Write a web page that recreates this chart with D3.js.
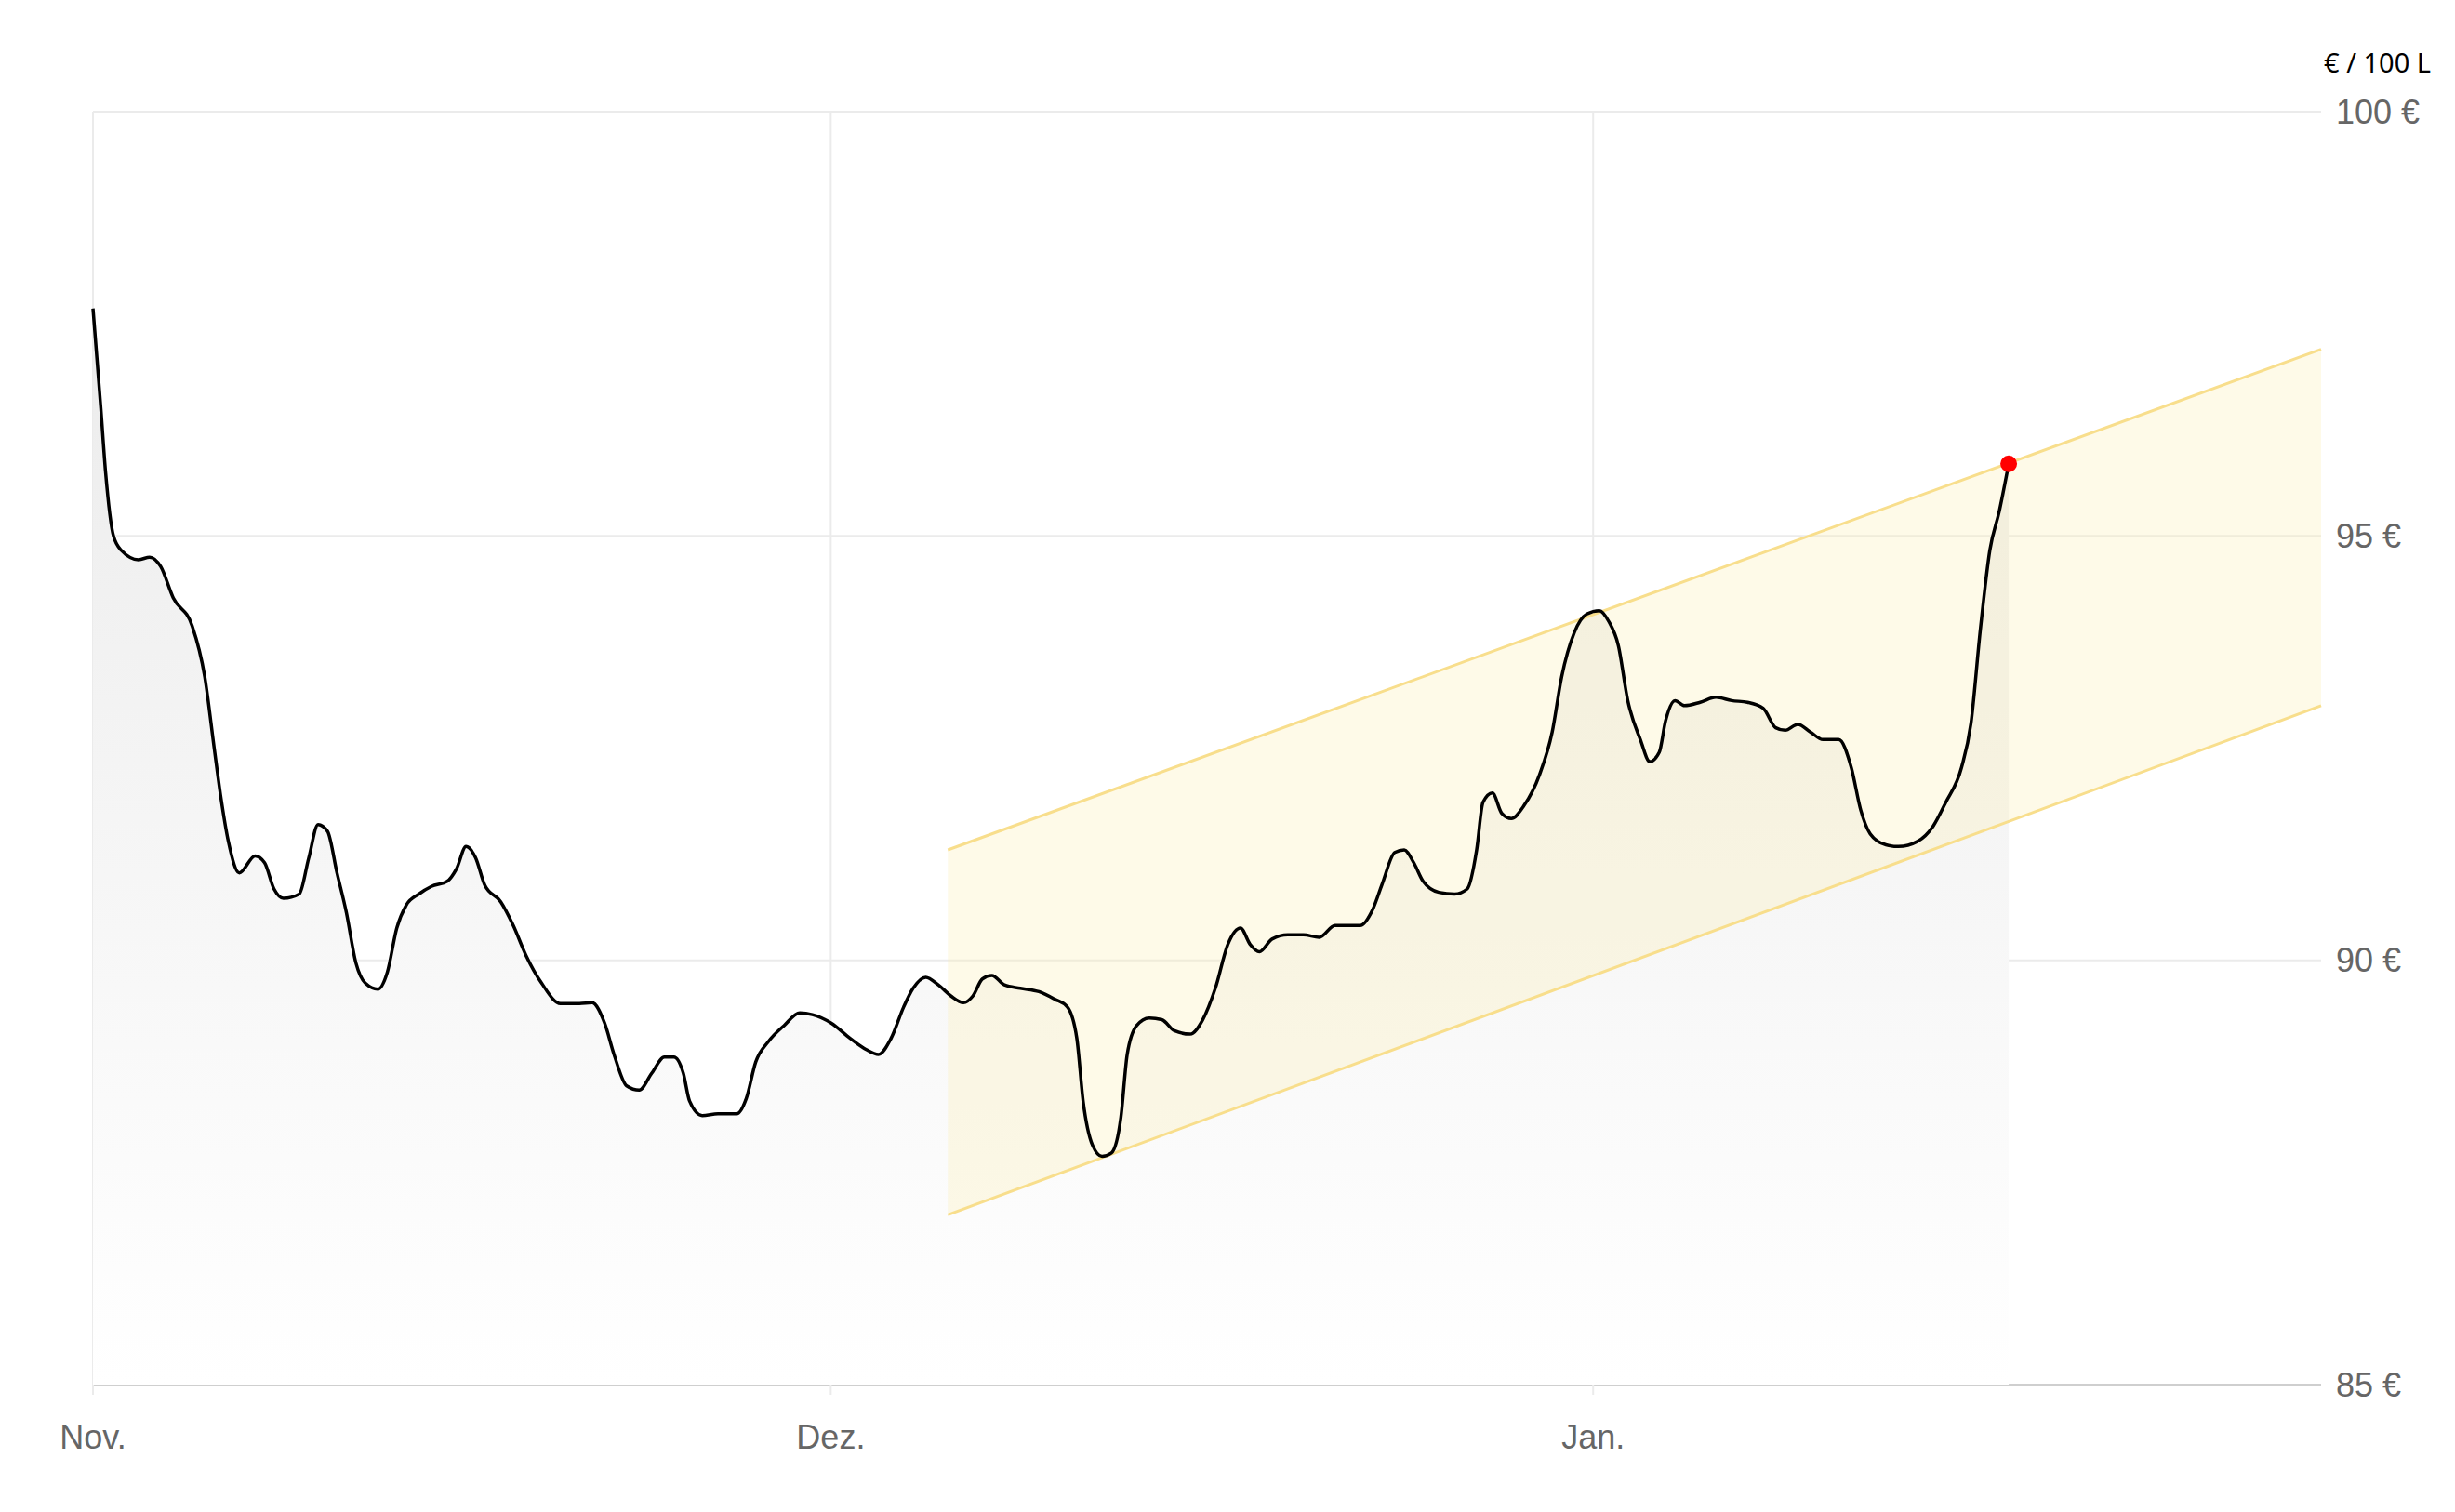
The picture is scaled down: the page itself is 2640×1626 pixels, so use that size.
<!DOCTYPE html>
<html><head><meta charset="utf-8">
<script src="https://cdn.jsdelivr.net/npm/d3@7"></script>
<style>body{margin:0;background:#fff}svg{display:block}text{font-family:"Liberation Sans",Arial,sans-serif}</style>
</head><body>
<script>
// Data: day offsets from 1 Nov and price in €/100 L
const dispX = [59,64,67,72,77,88,95,102,110,122,130,136,140,145,152,162,168,174,180,190,196,202,208,214,220,226,232,240,246,252,258,266,274,284,290,296,302,308,318,326,334,344,356,368,376,384,390,398,406,414,422,428,434,438,446,456,468,474,480,488,498,508,516,528,540,550,558,566,574,580,588,596,604,612,618,624,630,638,648,660,670,678,684,688,694,700,706,712,716,722,730,738,746,756,764,772,780,788,794,800,808,818,828,838,848,856,864,872,878,886,892,898,904,914,924,932,938,942,948,954,960,968,978,986,992,1000,1008,1016,1022,1028,1034,1042,1048,1054,1058,1064,1070,1080,1090,1100,1110,1120,1128,1134,1142,1150,1158,1168,1176,1182,1188,1198,1206,1218,1228,1236,1246,1252,1258,1264,1270,1276];
const days = dispX.map(x => (x - 59) / 15.623);
const prices = [97.68,96.5,95.75,95.0,94.83,94.72,94.75,94.64,94.27,93.94,93.34,92.5,91.95,91.4,91.03,91.23,91.15,90.84,90.73,90.78,91.2,91.6,91.52,91.03,90.56,89.97,89.73,89.66,89.86,90.38,90.65,90.78,90.87,90.93,91.08,91.34,91.21,90.88,90.69,90.41,90.06,89.73,89.49,89.49,89.5,89.26,88.89,88.52,88.47,88.67,88.86,88.86,88.67,88.34,88.17,88.19,88.19,88.37,88.8,89.04,89.23,89.38,89.36,89.26,89.08,88.95,88.89,89.08,89.45,89.67,89.8,89.71,89.58,89.5,89.58,89.78,89.82,89.71,89.67,89.63,89.54,89.45,89.08,88.34,87.82,87.69,87.73,88.15,88.89,89.23,89.32,89.3,89.17,89.13,89.3,89.67,90.19,90.38,90.19,90.1,90.25,90.3,90.3,90.27,90.41,90.41,90.41,90.6,90.9,91.27,91.3,91.15,90.93,90.8,90.78,90.84,91.3,91.86,91.97,91.73,91.67,91.82,92.19,92.69,93.34,93.86,94.08,94.12,93.99,93.71,93.06,92.6,92.34,92.45,92.82,93.06,93.0,93.04,93.1,93.06,93.04,92.97,92.74,92.71,92.78,92.69,92.6,92.6,92.27,91.77,91.49,91.36,91.34,91.4,91.58,91.86,92.27,92.79,93.9,94.83,95.29,95.85];
const channelDays = [34.76, 90.6];
const channelUpper = [91.3, 97.2];
const channelLower = [87.0, 93.0];
const yTicks = [85, 90, 95, 100];
const monthTicks = ["2024-11-01","2024-12-01","2025-01-01"];
const monthLabels = ["Nov.","Dez.","Jan."];
const unitLabel = "€ / 100 L";

const W = 2640, H = 1626;
const start = new Date(2024,10,1);
const toDate = d => new Date(start.getTime() + d*86400000);
const x = d3.scaleTime().domain([start, toDate(90.6)]).range([100, 2496]);
const y = d3.scaleLinear().domain([85, 100]).range([1489, 120]);

const svg = d3.select("body").append("svg").attr("width", W).attr("height", H);
const defs = svg.append("defs");
const g = defs.append("linearGradient").attr("id","gr").attr("x1",0).attr("x2",0).attr("y1",0).attr("y2",1);
g.append("stop").attr("offset","0%").attr("stop-color","#ececec");
g.append("stop").attr("offset","100%").attr("stop-color","#ffffff");

// gridlines
svg.append("g").selectAll("line").data(yTicks).join("line")
  .attr("x1",100).attr("x2",2496).attr("y1",d=>y(d)).attr("y2",d=>y(d))
  .attr("stroke",d=>d===85?"#cfcfcf":"#ebebeb").attr("stroke-width",2);
svg.append("g").selectAll("line").data(monthTicks).join("line")
  .attr("x1",d=>x(new Date(d))).attr("x2",d=>x(new Date(d))).attr("y1",120).attr("y2",1500)
  .attr("stroke","#ebebeb").attr("stroke-width",2);

const pts = days.map((d,i)=>({t:toDate(d), v:prices[i]}));
svg.append("path").datum(pts)
  .attr("d", d3.area().x(d=>x(d.t)).y0(y(85)).y1(d=>y(d.v)).curve(d3.curveMonotoneX))
  .attr("fill","url(#gr)");

// channel
const ch = channelDays.map((d,i)=>({t:toDate(d), u:channelUpper[i], l:channelLower[i]}));
svg.append("path").datum(ch)
  .attr("d", d3.area().x(d=>x(d.t)).y0(d=>y(d.l)).y1(d=>y(d.u)))
  .attr("fill","#fdefb2").attr("fill-opacity",0.3);
["u","l"].forEach(k=>svg.append("path").datum(ch)
  .attr("d", d3.line().x(d=>x(d.t)).y(d=>y(d[k])))
  .attr("fill","none").attr("stroke","#f8de8c").attr("stroke-width",3));

svg.append("path").datum(pts)
  .attr("d", d3.line().x(d=>x(d.t)).y(d=>y(d.v)).curve(d3.curveMonotoneX))
  .attr("fill","none").attr("stroke","#000").attr("stroke-width",3.5);

const last = pts[pts.length-1];
svg.append("circle").attr("cx",x(last.t)).attr("cy",y(last.v)).attr("r",9).attr("fill","#ff0000");

// axes labels
svg.append("g").selectAll("text").data(yTicks).join("text")
  .attr("x",2512).attr("y",d=>y(d)).attr("dy","0.35em")
  .attr("font-size",36).attr("fill","#666").text(d=>d+" €");
svg.append("g").selectAll("text").data(monthTicks).join("text")
  .attr("x",d=>x(new Date(d))).attr("y",1558).attr("text-anchor","middle")
  .attr("font-size",36).attr("fill","#666").text((d,i)=>monthLabels[i]);
svg.append("text").attr("x",2614).attr("y",78).attr("text-anchor","end")
  .attr("font-size",29).attr("fill","#000").style("font-family","'Noto Sans'").text(unitLabel);
</script>
</body></html>
